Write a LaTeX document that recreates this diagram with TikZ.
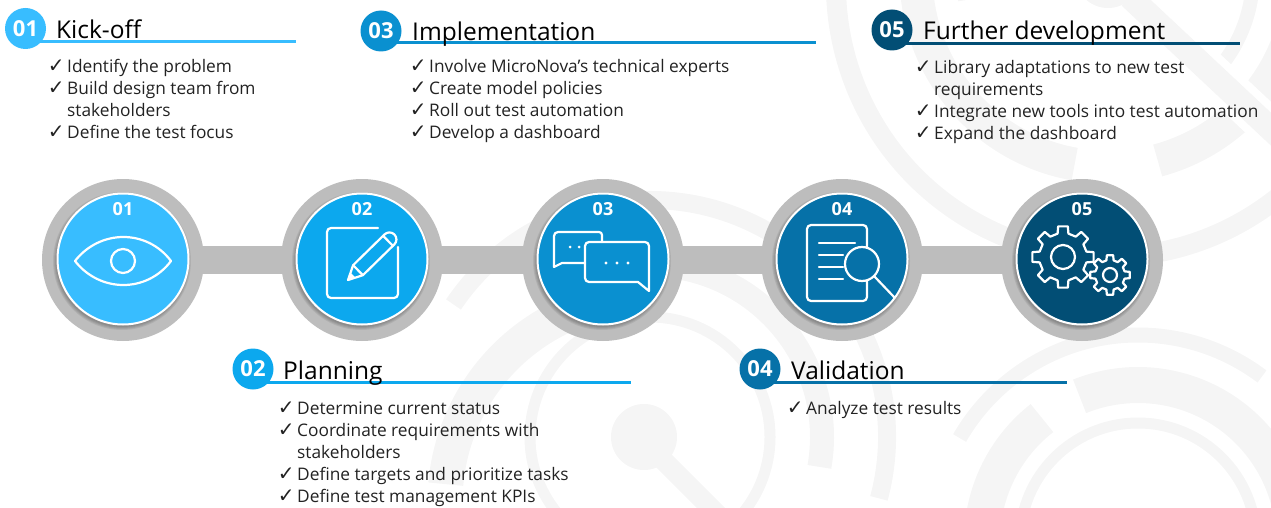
\documentclass[tikz,border=0pt]{standalone}
\usepackage{fontspec}
\setmainfont{Open Sans}
\newfontfamily\tickfont{DejaVu Sans}
\usetikzlibrary{positioning}

\definecolor{stepa}{HTML}{38BDFF}
\definecolor{stepb}{HTML}{0CA8EE}
\definecolor{stepc}{HTML}{0A90D0}
\definecolor{stepd}{HTML}{0671A8}
\definecolor{stepe}{HTML}{024E75}
\definecolor{hubgray}{HTML}{BDBDBD}
\definecolor{markgray}{HTML}{F5F5F5}
\definecolor{inktext}{HTML}{222222}

\newcommand{\tickmark}{\llap{\tickfont\fontsize{20}{20}\selectfont ✓\hspace{2.5pt}}}

\tikzset{
    hub/.style={circle, fill=hubgray, minimum size=162pt, inner sep=0pt, outer sep=0pt},
    disc/.style={circle, draw=white, line width=2pt, minimum size=131pt, inner sep=0pt},
    discnum/.style={text=white, font=\fontsize{18}{18}\selectfont\bfseries, inner sep=0pt},
    badge/.style={circle, minimum size=41pt, inner sep=0pt, text=white, font=\fontsize{22}{22}\selectfont\bfseries},
    headtext/.style={anchor=base west, inner sep=0pt, text=black, font=\fontsize{24.5}{24.5}\selectfont},
    itemtext/.style={anchor=base west, inner sep=0pt, text=inktext, font=\fontsize{17.3}{17.3}\selectfont},
    headrule/.style={line width=3pt},
    icon/.style={draw=white, line width=2.2pt, line join=round, line cap=round},
    markring/.style={draw=markgray}
}

\begin{document}
\begin{tikzpicture}[x=1pt,y=1pt]

    \useasboundingbox (0,0) rectangle (1271,507);

    % watermark rings
    \begin{scope}
        \clip (0,0) rectangle (1271,507);
        \foreach \cx/\cy/\r/\w/\a/\b in {
            650/70/120/11/0/360, 650/70/172/24/-10/100, 650/5/205/35/100/175,
            650/70/237/18/-15/146,
            1138/-34/118/11/0/180, 1138/-34/156/36/-20/112, 1138/-34/156/36/128/190,
            1138/-34/206/15/53/150,
            1108/522/272/20/150/345, 1108/532/192/33/-75/-20, 1108/532/192/33/-175/-100,
            1108/532/145/14/-45/190}
            \draw[markring, line width=\w pt] (\cx,\cy) ++(\a:\r) arc (\a:\b:\r);
        \fill[markgray] (644,70) circle (33);
        \draw[markring, line width=20pt] (660,50) -- (740,-30);
        \draw[white, line width=40pt] (1130,510) -- (1290,360);
        \fill[markgray] (1108,532) circle (33);
        \draw[markring, line width=24pt] (1130,510) -- (1290,360);
    \end{scope}

    % hubs and the band between them
    \foreach \n/\x in {1/123, 2/362, 3/603, 4/842, 5/1082}
        \node[hub] (hub\n) at (\x,247) {};
    \foreach \n/\m in {1/2, 2/3, 3/4, 4/5}
        \draw[hubgray, line width=28pt, shorten >=-4pt, shorten <=-4pt] (hub\n) -- (hub\m);

    \foreach \n/\x/\col in {1/123/stepa, 2/362/stepb, 3/603/stepc, 4/842/stepd, 5/1082/stepe} {
        \foreach \s in {1,2,3,4}
            \fill[black, opacity=0.07] (\x-1,248-2) circle (65+\s);
        \node[disc, fill=\col] (disc\n) at (\x,248) {};
        \node[discnum] (num\n) at (\x,298) {0\n};
    }

    % eye
    \draw[icon] (75,246) .. controls (100,278) and (147,278) .. (171,246)
        .. controls (147,214) and (100,214) .. cycle;
    \draw[icon] (123,246) circle (12);

    % note and pencil
    \draw[icon] (378,279) -- (331,279) arc (90:180:4) -- (327,213) arc (180:270:4)
        -- (394,209) arc (270:360:4) -- (398,260);
    \begin{scope}[shift={(348,227)}, rotate=44.4]
        \draw[icon, fill=stepb] (0,0) -- (14,7) -- (58,7) arc (90:-90:7) -- (14,-7) -- cycle;
        \draw[icon] (14,7) -- (14,-7);
        \draw[icon] (56,7) -- (56,-7);
        \fill[white] (0,0) -- (7,3.5) -- (7,-3.5) -- cycle;
    \end{scope}

    % two speech bubbles
    \draw[icon] (554,241) -- (554,271) arc (180:90:4) -- (599,275) arc (90:0:3) -- (602,265);
    \draw[icon] (554,241) -- (554,240) -- (562,244) -- (585,244);
    \draw[icon] (589,265) -- (645,265) arc (90:0:4) -- (649,216) -- (638,225) -- (589,225)
        arc (270:180:4) -- (585,261) arc (180:90:4);
    \foreach \x in {570,579}
        \fill[white] (\x,260) circle (1.5);
    \foreach \x in {606,617,628}
        \fill[white] (\x,244) circle (1.7);

    % document and lens
    \draw[icon] (811,282) -- (863,282) arc (90:0:4) -- (867,210) arc (0:-90:4) -- (811,206)
        arc (270:180:4) -- (807,278) arc (180:90:4);
    \draw[icon] (819,264) -- (855,264);
    \foreach \y in {252,240,228}
        \draw[icon] (819,\y) -- (843,\y);
    \draw[icon] (874,231) -- (894,210);
    \draw[icon, fill=stepd] (862,243) circle (17);

    % gears
    \begin{scope}[shift={(1063,250)}]
        \draw[icon] (-13:24) \foreach \a in {0,45,...,315} {
            -- (\a-13:24) -- (\a-9:31) -- (\a+9:31) -- (\a+13:24) } -- cycle;
        \draw[icon] (0,0) circle (12);
    \end{scope}
    \begin{scope}[shift={(1110,232)}]
        \draw[icon, fill=stepe] (-14:15) \foreach \a in {0,45,...,315} {
            -- (\a-14:15) -- (\a-9:20) -- (\a+9:20) -- (\a+14:15) } -- cycle;
        \draw[icon] (0,0) circle (7);
    \end{scope}

    % headings
    \foreach \n/\x/\y/\rx/\ry/\tx/\tb/\col/\head in {
        1/25.5/478.5/296/465/56/468/stepa/Kick-off,
        2/253/138/631/125/283/128/stepb/Planning,
        3/381/476/816/464/412/466/stepc/Implementation,
        4/760/138/1067/125/791/128/stepd/Validation,
        5/892/477/1240/463.5/923/467/stepe/Further development} {
        \coordinate (end\n) at (\rx,\ry);
        \node[badge, fill=\col] (badge\n) at (\x,\y) {0\n};
        \draw[headrule, \col] (badge\n.center |- end\n) -- (end\n);
        \node[headtext] (head\n) at (\tx,\tb) {\head};
    }

    % lists
    \foreach \y/\txt in {434/\tickmark Identify the problem,
        412/\tickmark Build design team from, 390/stakeholders, 368/\tickmark Define the test focus}
        \node[itemtext] (kick\y) at (67,\y) {\txt};
    \foreach \y/\txt in {93/\tickmark Determine current status,
        71/\tickmark Coordinate requirements with, 49/stakeholders,
        27/\tickmark Define targets and prioritize tasks, 5/\tickmark Define test management KPIs}
        \node[itemtext] (plan\y) at (297,\y) {\txt};
    \foreach \y/\txt in {434/\tickmark Involve MicroNova’s technical experts,
        412/\tickmark Create model policies, 390/\tickmark Roll out test automation,
        368/\tickmark Develop a dashboard}
        \node[itemtext] (impl\y) at (429,\y) {\txt};
    \node[itemtext] (valid93) at (806,93) {\tickmark Analyze test results};
    \foreach \y/\txt in {433/\tickmark Library adaptations to new test,
        411/requirements, 389/\tickmark Integrate new tools into test automation,
        367/\tickmark Expand the dashboard}
        \node[itemtext] (dev\y) at (934,\y) {\txt};

\end{tikzpicture}
\end{document}
